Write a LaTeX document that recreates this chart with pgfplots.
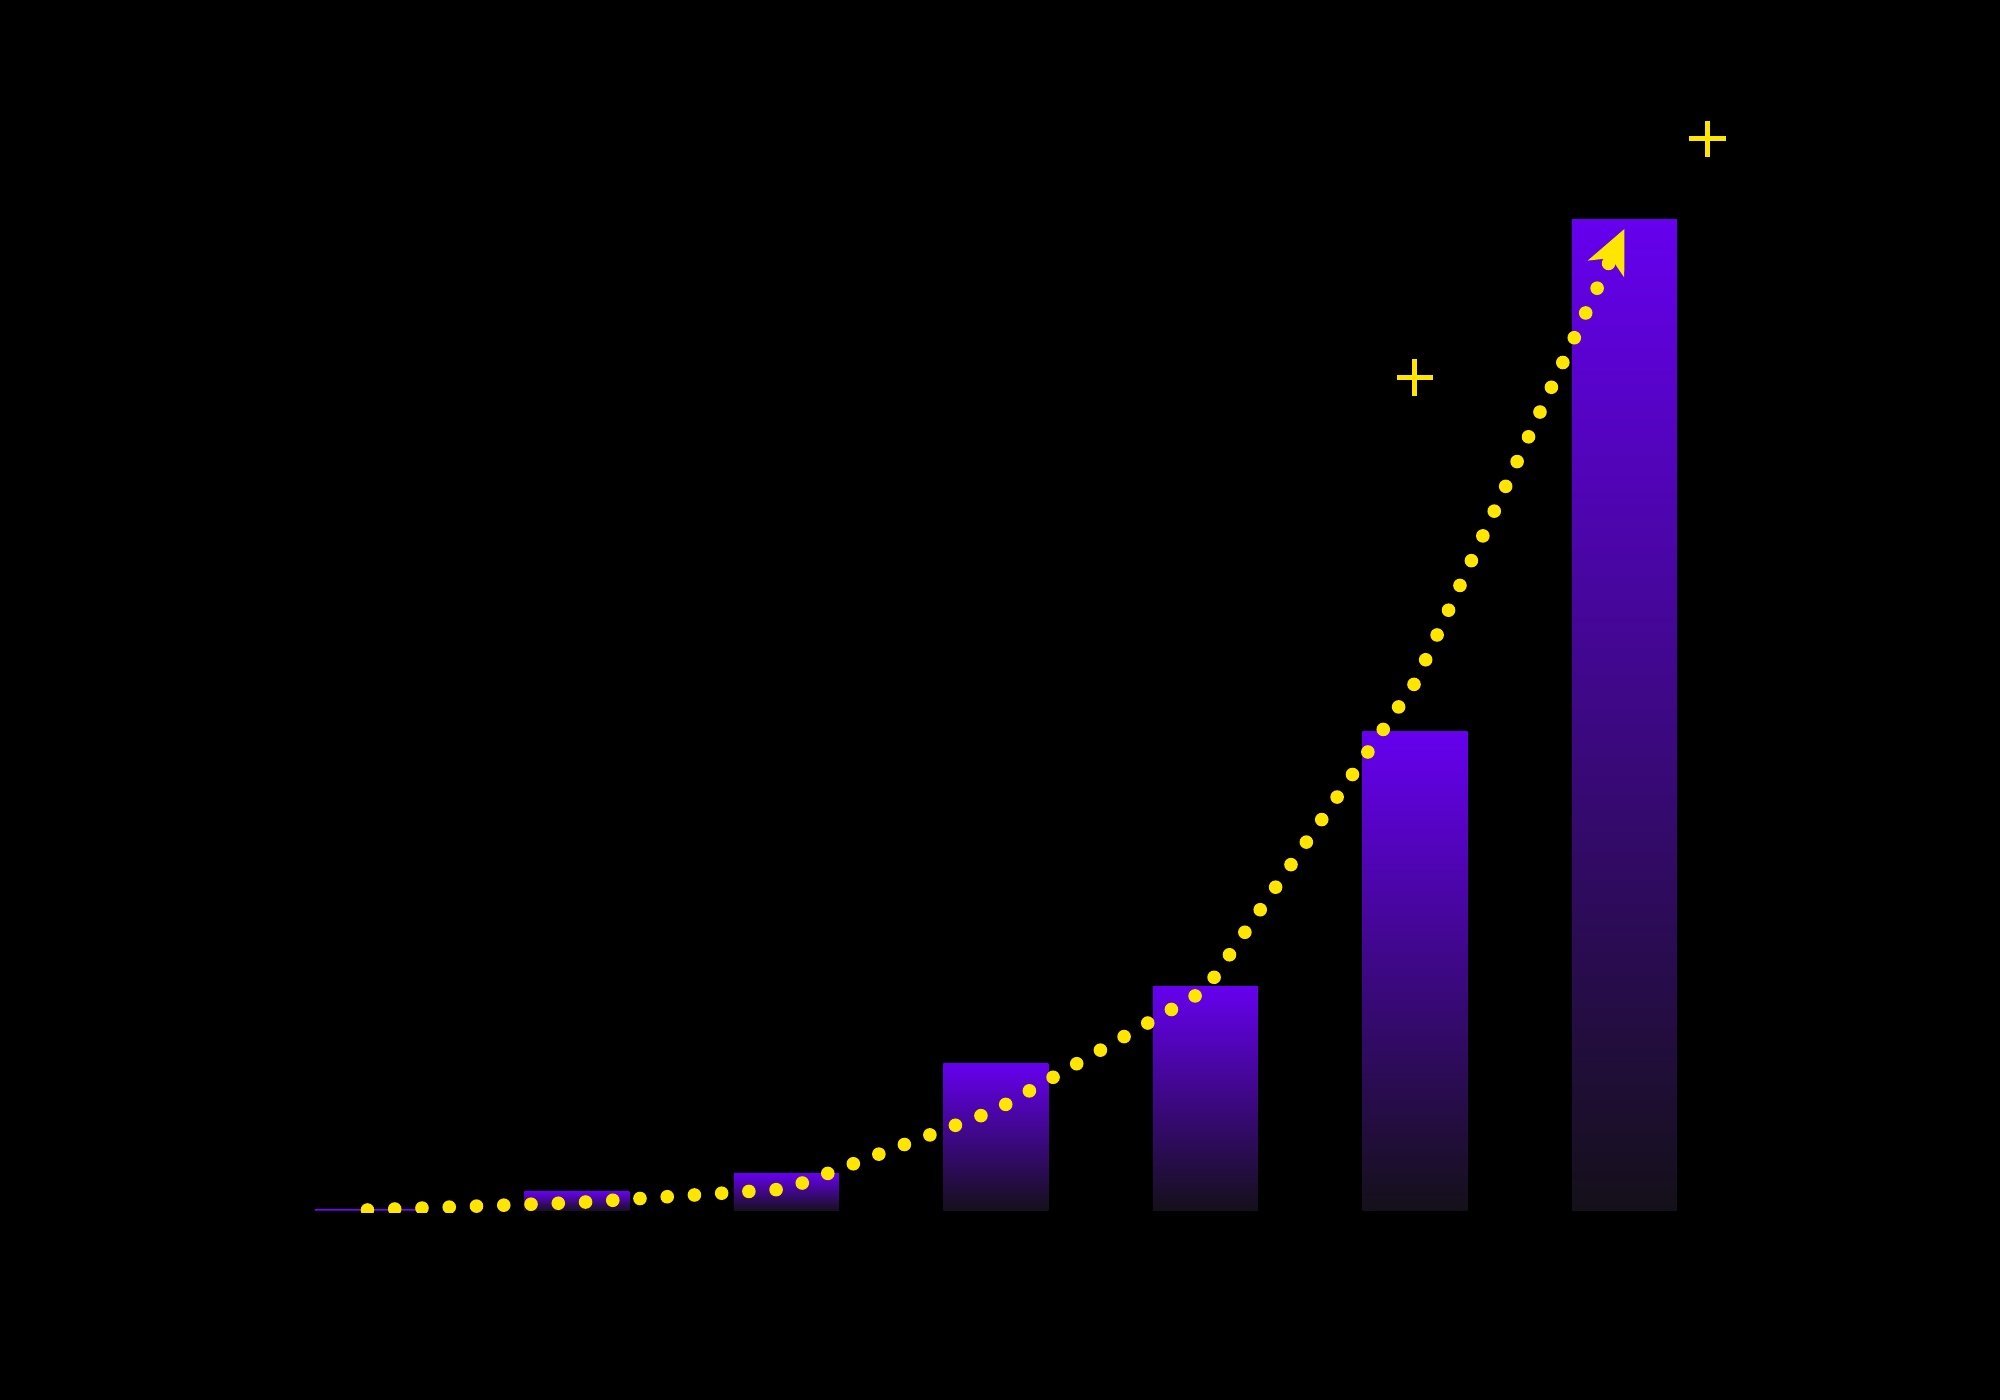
\documentclass[border=0pt]{standalone}
\usepackage{pgfplots}
\pgfplotsset{compat=1.18}
\usetikzlibrary{arrows.meta}
\definecolor{barTop}{HTML}{6600EE}
\definecolor{barBot}{HTML}{141019}
\definecolor{ylw}{HTML}{FFE600}
\begin{document}
\begin{tikzpicture}
\fill[black] (0,0) rectangle (500pt,350pt);
\path[use as bounding box] (0,0) rectangle (500pt,350pt);
\begin{axis}[
  at={(13.3pt,46.75pt)}, anchor=south west,
  scale only axis, width=471.375pt, height=293pt,
  xmin=-1.5, xmax=7.5, ymin=-0.2, ymax=117,
  hide axis,
  barstyle/.style={ybar, bar width=26.25pt, bar shift=0pt, draw=none,
    top color=barTop, bottom color=barBot},
]
\addplot[barstyle] coordinates {(0,0.15)};
\addplot[barstyle] coordinates {(1,1.93)};
\addplot[barstyle] coordinates {(2,3.77)};
\addplot[barstyle] coordinates {(3,14.7)};
\addplot[barstyle] coordinates {(4,22.4)};
\addplot[barstyle] coordinates {(5,47.9)};
\addplot[barstyle] coordinates {(6,99.1)};
\addplot[ylw, line width=3.4pt, line cap=round, dash pattern=on 0pt off 6.82pt,
  -{Stealth[length=11pt,width=10pt,inset=3pt,line width=0.4pt]}]
  coordinates {(0,0.1) (1,0.84) (2,2.2) (3,10.1) (4,22.1) (5,52.8) (6,98.2)};
\addplot[ylw, only marks, mark=+, mark size=4.6pt, line width=1.25pt]
  coordinates {(5,83.35) (6.396,107.2)};
\end{axis}
\end{tikzpicture}
\end{document}
